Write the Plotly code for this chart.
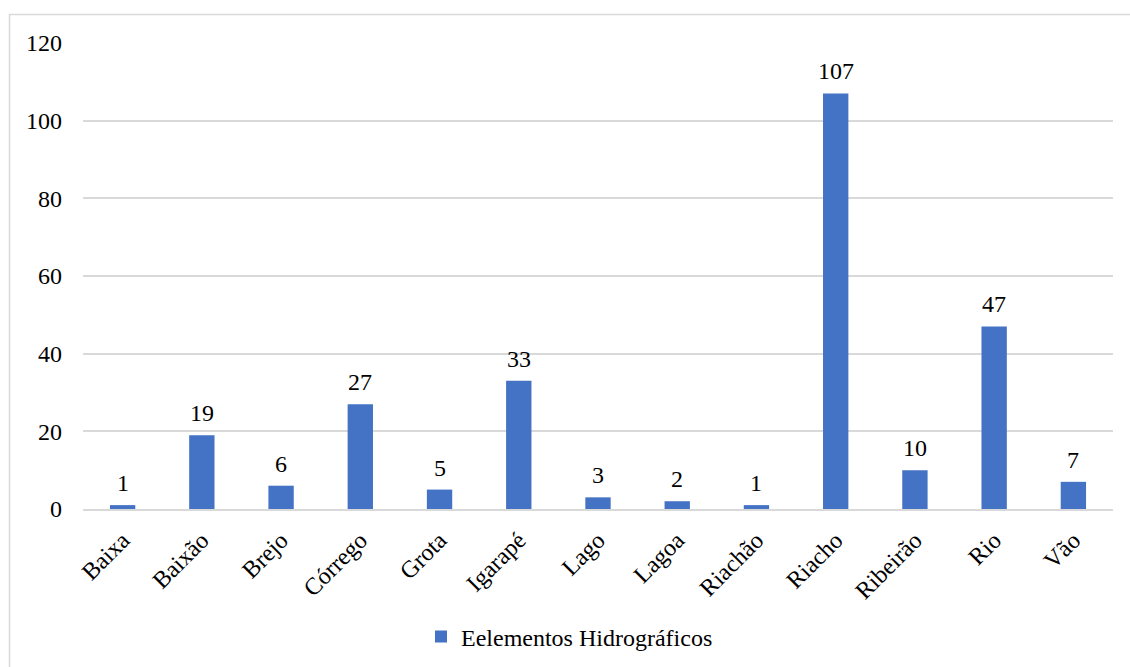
import plotly.graph_objects as go

categories = ["Baixa", "Baixão", "Brejo", "Córrego", "Grota", "Igarapé", "Lago",
              "Lagoa", "Riachão", "Riacho", "Ribeirão", "Rio", "Vão"]
values = [1, 19, 6, 27, 5, 33, 3, 2, 1, 107, 10, 47, 7]
series_name = "Eelementos Hidrográficos"
y_ticks = [0, 20, 40, 60, 80, 100, 120]

FONT = "Liberation Serif"
FS = 24
BLUE = "#4472C4"
GRID = "#d9d9d9"

fig = go.Figure()
fig.add_trace(go.Bar(
    x=categories, y=values, name=series_name,
    marker=dict(color=BLUE, line=dict(width=0)),
    showlegend=True,
))

for c, v in zip(categories, values):
    fig.add_annotation(x=c, y=v, text=str(v), showarrow=False,
                       yanchor="bottom", yshift=7,
                       font=dict(family=FONT, size=FS, color="#000000"))

W, H = 1130, 667
L, R, T, B = 83, 17, 43, 158
pw, ph = W - L - R, H - T - B

def px(xp):
    return (xp - L) / pw

def py(yp):
    return (H - B - yp) / ph

fig.add_shape(type="rect", xref="paper", yref="paper",
              x0=px(9.5), x1=px(1140), y0=py(680), y1=py(14.5),
              line=dict(color=GRID, width=1.5), fillcolor="rgba(0,0,0,0)", layer="below")

fig.update_layout(
    width=W, height=H,
    margin=dict(l=L, r=R, t=T, b=B, autoexpand=False),
    paper_bgcolor="white", plot_bgcolor="white",
    font=dict(family=FONT, size=FS, color="#000000"),
    bargap=0.68,
    showlegend=True,
    legend=dict(orientation="h", x=px(421), xanchor="left", y=py(637), yanchor="middle",
                font=dict(family=FONT, size=FS, color="#000000"),
                bgcolor="rgba(0,0,0,0)"),
    xaxis=dict(type="category", tickangle=-45, showgrid=False,
               showline=True, linecolor=GRID, linewidth=1.5,
               ticks="", ticklabelstandoff=6,
               tickfont=dict(family=FONT, size=FS, color="#000000")),
    yaxis=dict(range=[0, 120], tickvals=y_ticks, showgrid=True, gridcolor=GRID, gridwidth=1.5,
               zeroline=False, showline=False, ticks="", ticklabelstandoff=20,
               tickfont=dict(family=FONT, size=FS, color="#000000")),
)

fig.write_html("out.html")
